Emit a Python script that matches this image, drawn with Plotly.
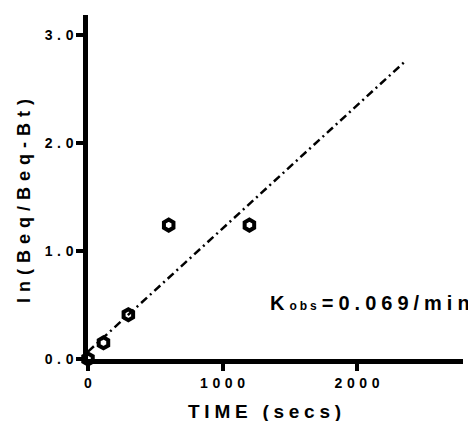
import plotly.graph_objects as go

# Data
time_s = [0, 115, 300, 600, 1200]
ln_ratio = [0.0, 0.15, 0.41, 1.24, 1.24]
fit_x = [0, 2365]
fit_intercept = 0.068
fit_slope = 0.00114  # per second (~0.069/min)
fit_y = [fit_intercept + fit_slope * x for x in fit_x]

x_ticks = [0, 1000, 2000]
x_ticklabels = ["0", "1000", "2000"]
y_ticks = [0, 1, 2, 3]
y_ticklabels = ["0.0", "1.0", "2.0", "3.0"]

SP = "\u2004"
SP2 = "\u2005"


def spaced(s, sp=SP):
    return sp.join(list(s))


FONT = "Liberation Sans, Arial, sans-serif"
OFF = 8  # page body margin

fig = go.Figure()
fig.add_trace(go.Scatter(
    x=fit_x, y=fit_y, mode="lines",
    line=dict(color="black", width=2.5, dash="8px,4px,2px,4px"),
    showlegend=False, hoverinfo="skip", cliponaxis=False,
))
fig.add_trace(go.Scatter(
    x=time_s, y=ln_ratio, mode="markers",
    marker=dict(symbol="hexagon-open", size=11, color="black",
                line=dict(color="black", width=4)),
    showlegend=False, cliponaxis=False,
))

fig.update_layout(
    width=476 - OFF, height=429 - 2 * OFF,
    margin=dict(l=88 - OFF, r=13, t=15 - OFF, b=429 - 2 * OFF - (359 - OFF), autoexpand=False),
    paper_bgcolor="white", plot_bgcolor="white",
    font=dict(family=FONT, color="black"),
    xaxis=dict(
        range=[0, 2788], showgrid=False, zeroline=False,
        showline=True, linewidth=4.5, linecolor="black",
        ticks="outside", ticklen=7, tickwidth=4, tickcolor="black",
        tickvals=x_ticks, ticktext=[spaced(t) for t in x_ticklabels],
        tickfont=dict(size=14, weight="bold", family=FONT),
    ),
    yaxis=dict(
        range=[0, 3.185], showgrid=False, zeroline=False,
        showline=True, linewidth=4.5, linecolor="black",
        ticks="outside", ticklen=7, tickwidth=4, tickcolor="black",
        tickvals=y_ticks, ticktext=[spaced(t) for t in y_ticklabels],
        tickfont=dict(size=14, weight="bold", family=FONT),
    ),
    annotations=[
        dict(text=spaced("TIME (secs)", SP2), xref="paper", yref="paper",
             x=(264 - 88) / 375, y=-(411 - 359) / 344, xanchor="center", yanchor="middle",
             showarrow=False, font=dict(size=19, weight="bold", family=FONT)),
        dict(text=spaced("ln(Beq/Beq-Bt)"), xref="paper", yref="paper",
             x=-(88 - 24) / 375, y=(359 - 201) / 344, xanchor="center", yanchor="middle",
             textangle=-90, showarrow=False,
             font=dict(size=18, weight="bold", family=FONT)),
        dict(text="K" + SP2 + "<span style='font-size:12px'>" + spaced("obs", SP2) + "</span>" + SP2 + "=" + SP2 + spaced("0.069/min", SP2),
             xref="paper", yref="y", x=(472 - 88) / 375, y=0.52, xanchor="right", yanchor="middle",
             showarrow=False, font=dict(size=20, weight="bold", family=FONT)),
    ],
)

fig.write_html("out.html")
